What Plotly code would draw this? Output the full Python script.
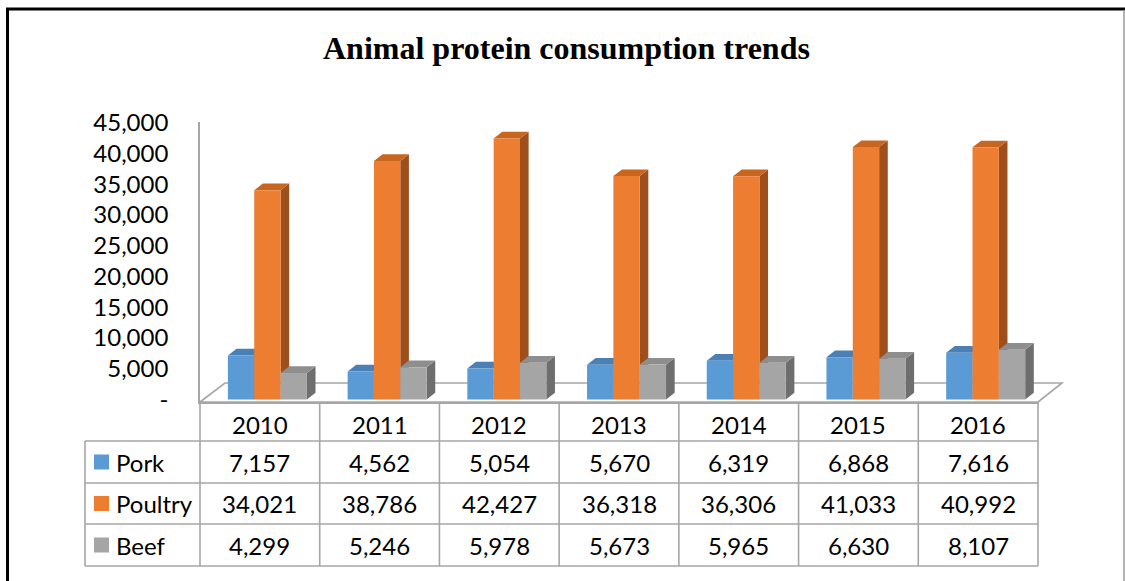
import plotly.graph_objects as go

# ---- data ----
years = ["2010", "2011", "2012", "2013", "2014", "2015", "2016"]
series_names = ["Pork", "Poultry", "Beef"]
pork = [7157, 4562, 5054, 5670, 6319, 6868, 7616]
poultry = [34021, 38786, 42427, 36318, 36306, 41033, 40992]
beef = [4299, 5246, 5978, 5673, 5965, 6630, 8107]
tick_values = [0, 5000, 10000, 15000, 20000, 25000, 30000, 35000, 40000, 45000]
tick_labels = ["-", "5,000", "10,000", "15,000", "20,000", "25,000",
               "30,000", "35,000", "40,000", "45,000"]

# ---- styling ----
front_colors = ["#5B9BD5", "#ED7D31", "#A5A5A5"]
top_colors = ["#4A80B4", "#C8651F", "#8E8E8E"]
side_colors = ["#3E6D98", "#9E4F1C", "#6E6E6E"]
grid_color = "#A6A6A6"
body_font = "Lato"
body_size = 24

W, H = 1125, 581
ML, MR, MT, MB = 200, 87, 122, 179
PW, PH = W - ML - MR, H - MT - MB


def px(x):
    """pixel x -> paper x"""
    return (x - ML) / PW


def py(y):
    """pixel y -> paper y"""
    return (H - MB - y) / PH


y_min, y_max = -406, 45114
units_per_px = (y_max - y_min) / PH
n = len(years)

bar_w = 0.22           # width of one bar (category units)
group_left = -0.267    # left edge of first bar relative to category centre
depth_dx = 0.072       # horizontal depth offset (category units)
depth_dy = 6.7 * units_per_px  # vertical depth offset (value units)

fig = go.Figure()

for k, (name, vals) in enumerate(zip(series_names, [pork, poultry, beef])):
    sx, sy, tx, ty, fx, fy = [], [], [], [], [], []
    for i, v in enumerate(vals):
        left = i + group_left + k * bar_w
        right = left + bar_w
        # side face
        sx += [right, right + depth_dx, right + depth_dx, right, right, None]
        sy += [0, depth_dy, v + depth_dy, v, 0, None]
        # top face
        tx += [left, left + depth_dx, right + depth_dx, right, left, None]
        ty += [v, v + depth_dy, v + depth_dy, v, v, None]
        # front face
        fx += [left, right, right, left, left, None]
        fy += [0, 0, v, v, 0, None]
    for xs, ys, col in [(sx, sy, side_colors[k]), (tx, ty, top_colors[k]),
                        (fx, fy, front_colors[k])]:
        fig.add_trace(go.Scatter(
            x=xs, y=ys, mode="lines", fill="toself", fillcolor=col,
            line=dict(width=0, color=col), hoverinfo="skip", name=name,
            showlegend=False))

shapes = []
annotations = []

# floor of the 3D plot
floor_back = 383
shapes.append(dict(
    type="path", xref="paper", yref="paper", layer="below",
    path=(f"M {px(200)},{py(402)} L {px(225)},{py(floor_back)} "
          f"L {px(1062)},{py(floor_back)} L {px(ML + PW)},{py(402)}"),
    line=dict(color=grid_color, width=1.6)))

# data table grid
row_edges = [402, 441, 483, 524, 566]
table_left = 85
for j, ye in enumerate(row_edges):
    x0 = ML if j == 0 else table_left
    shapes.append(dict(type="line", xref="paper", yref="paper",
                       x0=px(x0), x1=1, y0=py(ye), y1=py(ye),
                       line=dict(color=grid_color, width=1.6)))
for c in range(n + 1):
    shapes.append(dict(type="line", xref="paper", yref="paper",
                       x0=c / n, x1=c / n, y0=py(row_edges[0]), y1=py(row_edges[-1]),
                       line=dict(color=grid_color, width=1.6)))
shapes.append(dict(type="line", xref="paper", yref="paper",
                   x0=px(table_left), x1=px(table_left),
                   y0=py(row_edges[1]), y1=py(row_edges[-1]),
                   line=dict(color=grid_color, width=1.6)))

tfont = dict(family=body_font, size=body_size, color="#000000")


def cell_text(x, y, text, anchor="center"):
    annotations.append(dict(xref="paper", yref="paper", x=x, y=y, text=text,
                            xanchor=anchor, yanchor="middle", showarrow=False,
                            font=tfont))


for i, yr in enumerate(years):
    cell_text((i + 0.5) / n, py((row_edges[0] + row_edges[1]) / 2 + 3), yr)
for k, (name, vals) in enumerate(zip(series_names, [pork, poultry, beef])):
    yc = (row_edges[k + 1] + row_edges[k + 2]) / 2
    shapes.append(dict(type="rect", xref="paper", yref="paper",
                       x0=px(94), x1=px(109), y0=py(yc - 7.5), y1=py(yc + 7.5),
                       fillcolor=front_colors[k], line=dict(width=0)))
    cell_text(px(114), py(yc), name, anchor="left")
    for i, v in enumerate(vals):
        cell_text((i + 0.5) / n, py(yc), f"{v:,}")

# title
annotations.append(dict(xref="paper", yref="paper", x=px(566), y=py(48),
                        xanchor="center", yanchor="middle",
                        text="<b>Animal protein consumption trends</b>",
                        showarrow=False,
                        font=dict(family="Liberation Serif", size=32,
                                  color="#000000")))

# outer frame
shapes.append(dict(type="line", xref="paper", yref="paper",
                   x0=px(6), x1=px(W + 5), y0=py(9), y1=py(9),
                   line=dict(color="#000000", width=3)))
shapes.append(dict(type="line", xref="paper", yref="paper",
                   x0=px(7.5), x1=px(7.5), y0=py(8), y1=py(H + 5),
                   line=dict(color="#000000", width=3)))
shapes.append(dict(type="line", xref="paper", yref="paper",
                   x0=px(1124), x1=px(1124), y0=py(10), y1=py(H + 5),
                   line=dict(color="#9A9A9A", width=1.5)))

fig.update_layout(
    width=W, height=H,
    margin=dict(l=ML, r=MR, t=MT, b=MB, pad=0),
    paper_bgcolor="#FFFFFF", plot_bgcolor="#FFFFFF",
    showlegend=False,
    shapes=shapes, annotations=annotations,
    xaxis=dict(range=[-0.5, n - 0.5], showticklabels=False, ticks="",
               showgrid=False, zeroline=False, showline=True,
               linecolor=grid_color, linewidth=1.6, fixedrange=True),
    yaxis=dict(range=[y_min, y_max], tickvals=tick_values, ticktext=tick_labels,
               ticks="", showgrid=False, zeroline=False, showline=True,
               linecolor=grid_color, linewidth=1.6, ticklabelstandoff=25,
               tickfont=dict(family=body_font, size=body_size, color="#000000"),
               fixedrange=True),
)

fig.write_html("out.html")
